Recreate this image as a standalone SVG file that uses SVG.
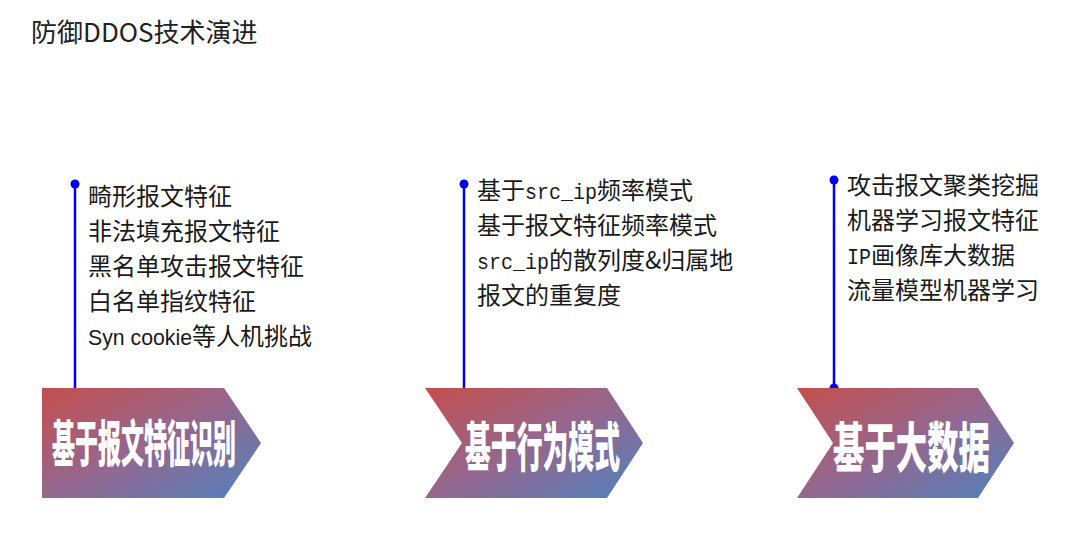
<svg xmlns="http://www.w3.org/2000/svg" width="1067" height="552" viewBox="0 0 1067 552">
<defs>
<linearGradient id="grad" x1="0" y1="0" x2="1" y2="1">
<stop offset="0" stop-color="#C44F4B"/>
<stop offset="0.5" stop-color="#95678F"/>
<stop offset="1" stop-color="#4F82BE"/>
</linearGradient>
<style>
.t{font-family:"Noto Sans CJK SC","Liberation Sans",sans-serif;font-size:24px;fill:#1a1a1a}
.m{font-family:"Liberation Mono",monospace;font-size:22px}
.big{font-family:"Noto Sans CJK SC",sans-serif;font-weight:900;fill:#fff;text-anchor:start}
.ln{stroke:#0000F0;stroke-width:2.5;fill:none}
.dot{fill:#0000F0}
</style>
</defs>
<rect width="1067" height="552" fill="#fff"/>
<text id="title" x="31" y="42" style="font-family:'Noto Sans CJK SC',sans-serif;font-size:26px;fill:#222">防御DDOS技术演进</text>
<g id="connectors">
<line class="ln" x1="75" y1="184" x2="75" y2="388"/>
<circle class="dot" cx="75" cy="184" r="4.5"/>
<line class="ln" x1="464" y1="184" x2="464" y2="388"/>
<circle class="dot" cx="464" cy="184" r="4.5"/>
<line class="ln" x1="834" y1="180" x2="834" y2="388"/>
<circle class="dot" cx="834" cy="180" r="4.5"/>
<circle class="dot" cx="834" cy="388" r="4.5"/>
</g>
<g id="node1">
<polygon points="42,388 224,388 261,443 224,498 42,498" fill="url(#grad)"/>
<text class="big" x="52" y="462" font-size="50" textLength="184" lengthAdjust="spacingAndGlyphs">基于报文特征识别</text>
</g>
<g id="node2">
<polygon points="425,388 607,388 643,443 607,498 425,498 462,443" fill="url(#grad)"/>
<text class="big" x="465" y="467" font-size="53" textLength="155" lengthAdjust="spacingAndGlyphs">基于行为模式</text>
</g>
<g id="node3">
<polygon points="797,388 978,388 1014,443 978,498 797,498 833,443" fill="url(#grad)"/>
<text class="big" x="833" y="468" font-size="54" textLength="157" lengthAdjust="spacingAndGlyphs">基于大数据</text>
</g>
<g id="list1">
<text class="t" x="88" y="205">畸形报文特征</text>
<text class="t" x="88" y="240">非法填充报文特征</text>
<text class="t" x="88" y="275">黑名单攻击报文特征</text>
<text class="t" x="88" y="310">白名单指纹特征</text>
<text class="t" x="88" y="345"><tspan style="font-family:'Liberation Sans',sans-serif;font-size:22px" textLength="104" lengthAdjust="spacingAndGlyphs">Syn cookie</tspan>等人机挑战</text>
</g>
<g id="list2">
<text class="t" x="477" y="199">基于<tspan class="m" textLength="72" lengthAdjust="spacingAndGlyphs">src_ip</tspan>频率模式</text>
<text class="t" x="477" y="234">基于报文特征频率模式</text>
<text class="t" x="477" y="269"><tspan class="m" textLength="72" lengthAdjust="spacingAndGlyphs">src_ip</tspan>的散列度&amp;归属地</text>
<text class="t" x="477" y="304">报文的重复度</text>
</g>
<g id="list3">
<text class="t" x="847" y="194">攻击报文聚类挖掘</text>
<text class="t" x="847" y="229">机器学习报文特征</text>
<text class="t" x="847" y="264"><tspan class="m" textLength="24" lengthAdjust="spacingAndGlyphs">IP</tspan>画像库大数据</text>
<text class="t" x="847" y="299">流量模型机器学习</text>
</g>
</svg>
